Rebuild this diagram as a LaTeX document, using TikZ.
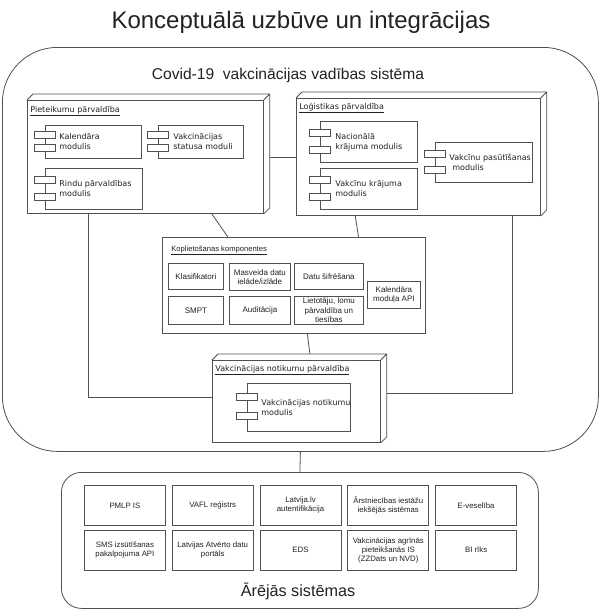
\documentclass[tikz,border=0pt]{standalone}
\usepackage{fontspec}
\setmainfont{Liberation Sans}
\newfontfamily\umlfont{DejaVu Sans}
\usetikzlibrary{positioning,calc}
\definecolor{lineclr}{HTML}{505050}
\definecolor{txtclr}{HTML}{222222}

\begin{document}
\begin{tikzpicture}[x=1pt,y=-1pt,line width=0.8pt,text=txtclr,
uml/.style={draw=lineclr,anchor=north west,inner sep=0pt},
comp/.style={draw=lineclr,anchor=north west,inner sep=0pt},
tab/.style={draw=lineclr,fill=white},
ctext/.style={font=\umlfont\fontsize{8}{10}\selectfont,align=left,inner sep=0pt,anchor=west},
hdr/.style={font=\umlfont\fontsize{8}{10}\selectfont,anchor=base west,inner sep=0pt},
kbox/.style={draw=lineclr,anchor=north west,align=center,inner sep=0pt,font=\fontsize{8}{9.4}\selectfont},
extbox/.style={draw=lineclr,align=center,inner sep=1pt,minimum width=81,minimum height=40,font=\fontsize{7.8}{9}\selectfont},
link/.style={draw=lineclr}]
\fill[white] (0,0) rectangle (600,613);
\useasboundingbox (0,0) rectangle (600,613);

% title and frames
\node[anchor=base,font=\fontsize{24}{28}\selectfont] (title) at (301,28) {Konceptuālā uzbūve un integrācijas};
\node[draw=lineclr,rounded corners=55,anchor=north west,minimum width=596,minimum height=404] (sys) at (2,47) {};
\node[anchor=base,font=\fontsize{15.6}{18}\selectfont] (systitle) at (288,79) {Covid-19 \ vakcinācijas vadības sistēma};
\node[draw=lineclr,rounded corners=20,anchor=north west,minimum width=477,minimum height=136] (ext) at (61,472) {};
\node[anchor=base,font=\fontsize{16.2}{19}\selectfont] (exttitle) at (298,596) {Ārējās sistēmas};

% uml nodes
\node[uml,minimum width=236,minimum height=113] (piet) at (27,100) {};
\node[uml,minimum width=244,minimum height=117] (logi) at (296,98) {};
\node[uml,minimum width=168,minimum height=82] (noti) at (212,360) {};
\foreach \n in {piet,logi,noti}
  \draw[link] (\n.north west) -- ++(6,-6) -| ($(\n.south east)+(6,-6)$) -- (\n.south east)
              (\n.north east) -- ++(6,-6);
\node[hdr] at ($(piet.north west)+(3,12)$) {\underline{Pieteikumu pārvaldība}};
\node[hdr] at ($(logi.north west)+(3,11)$) {\underline{Loģistikas pārvaldība}};
\node[hdr] at ($(noti.north west)+(3,11)$) {\underline{Vakcinācijas notikumu pārvaldība}};

% components
\node[comp,minimum width=96,minimum height=33] (kal) at (45,125) {};
\node[comp,minimum width=85,minimum height=33] (vst) at (158,125) {};
\node[comp,minimum width=97,minimum height=41] (rin) at (45,168) {};
\node[comp,minimum width=97,minimum height=41] (nac) at (320,121) {};
\node[comp,minimum width=97,minimum height=41] (vkr) at (320,168) {};
\node[comp,minimum width=97,minimum height=40] (vpa) at (435,142) {};
\node[comp,minimum width=103,minimum height=48] (vno) at (247,383) {};
\foreach \c in {kal,vst,rin,nac,vkr,vpa,vno} {
  \draw[tab] ($(\c.north west)!0.28!(\c.south west)$) ++(-11,-3.5) rectangle ++(21,7);
  \draw[tab] ($(\c.north west)!0.68!(\c.south west)$) ++(-11,-3.5) rectangle ++(21,7);
}
\node[ctext,right=14pt of kal.west] {Kalendāra\\modulis};
\node[ctext,right=15pt of vst.west] {Vakcinācijas\\statusa moduli};
\node[ctext,right=14pt of rin.west] {Rindu pārvaldības\\modulis};
\node[ctext,right=15pt of nac.west] {Nacionālā\\krājuma modulis};
\node[ctext,right=15pt of vkr.west] {Vakcīnu krājuma\\modulis};
\node[ctext,right=14pt of vpa.west] {Vakcīnu pasūtīšanas\\\hspace*{3pt}modulis};
\node[ctext,right=14pt of vno.west] {Vakcinācijas notikumu\\modulis};

% shared components
\node[draw=lineclr,anchor=north west,minimum width=263,minimum height=96] (kopl) at (162,237) {};
\node[anchor=base west,inner sep=0pt,font=\fontsize{7.6}{9}\selectfont] at ($(kopl.north west)+(9,14)$) {\underline{Koplietošanas komponentes}};
\node[kbox,minimum width=55,minimum height=26] (klas) at (168,263) {Klasifikatori};
\node[kbox,minimum width=61,minimum height=27] (masv) at (229,263) {Masveida datu\\ielāde/izlāde};
\node[kbox,minimum width=69,minimum height=26] (sifr) at (294,263) {Datu šifrēšana};
\node[kbox,minimum width=55,minimum height=28] (smpt) at (168,296) {SMPT};
\node[kbox,minimum width=61,minimum height=28] (audi) at (229,296) {Auditācija};
\node[kbox,minimum width=69,minimum height=28] (liet) at (294,296) {Lietotāju, lomu\\pārvaldība un\\tiesības};
\node[kbox,minimum width=53,minimum height=27] (kapi) at (367,281) {Kalendāra\\moduļa API};

% external systems
\node[extbox,anchor=north west] (pmlp) at (84,485) {PMLP IS};
\node[extbox,right=6pt of pmlp] (vafl) {VAFL reģistrs};
\node[extbox,right=6pt of vafl] (lvlv) {Latvija.lv\\autentifikācija};
\node[extbox,right=6pt of lvlv] (arst) {Ārstniecības iestāžu\\iekšējās sistēmas};
\node[extbox,right=6pt of arst] (evsl) {E-veselība};
\node[extbox,below=4pt of pmlp] (sms) {SMS izsūtīšanas\\pakalpojuma API};
\node[extbox,right=6pt of sms] (lado) {Latvijas Atvērto datu\\portāls};
\node[extbox,right=6pt of lado] (eds) {EDS};
\node[extbox,right=6pt of eds] (agri) {Vakcinācijas agrīnās\\pieteikšanās IS\\(ZZDats un NVD)};
\node[extbox,right=6pt of agri] (bi) {BI rīks};

% connectors
\draw[link] ($(piet.east)+(6,0)$) -- (logi.west);
\draw[link] ($(piet.south west)!0.78!(piet.south east)$) -- ($(kopl.north west)!0.25!(kopl.north east)$);
\draw[link] ($(logi.south west)!0.242!(logi.south east)$) -- ($(kopl.north west)!0.745!(kopl.north east)$);
\draw[link] ($(kopl.south west)!0.551!(kopl.south east)$) -- ($(noti.north west)!0.58!(noti.north east)+(0,-6)$);
\draw[link] ($(piet.south west)!0.26!(piet.south east)$) |- ($(noti.west)+(0,-4)$);
\draw[link] ($(logi.south west)!0.885!(logi.south east)$) |- ($(noti.east)+(6,-8)$);
\draw[link] (sys.south) -- (ext.north);
\end{tikzpicture}
\end{document}
